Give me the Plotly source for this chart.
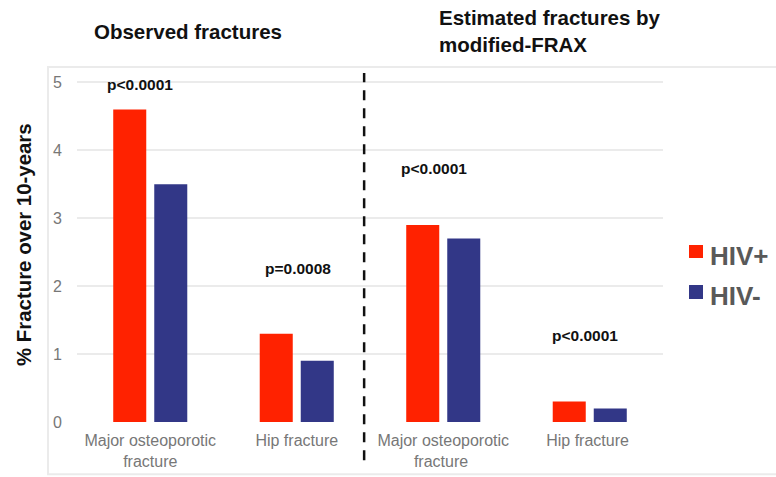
import plotly.graph_objects as go

# Fracture outcomes, observed vs. estimated by modified-FRAX
categories = ["Major osteoporotic<br>fracture", "Hip fracture",
              "Major osteoporotic<br>fracture ", "Hip fracture "]
hiv_pos = [4.6, 1.3, 2.9, 0.3]
hiv_neg = [3.5, 0.9, 2.7, 0.2]
series_names = ["HIV+", "HIV-"]
p_labels = ["p<0.0001", "p=0.0008", "p<0.0001", "p<0.0001"]
y_ticks = [0, 1, 2, 3, 4, 5]

RED = "#FF2200"
NAVY = "#323787"
FONT = "Liberation Sans, Arial, sans-serif"
colors = [RED, NAVY]

fig = go.Figure()
for name, vals, col in zip(series_names, [hiv_pos, hiv_neg], colors):
    fig.add_trace(go.Bar(x=categories, y=vals, name=name,
                         marker=dict(color=col, line=dict(width=0)),
                         showlegend=False))

# p-value labels above each group
p_pos = [(-0.07, 4.96), (1.01, 2.26), (1.94, 3.735), (2.97, 1.28)]
for txt, (px, py) in zip(p_labels, p_pos):
    fig.add_annotation(x=px, y=py, xref="x", yref="y", text=f"<b>{txt}</b>",
                       showarrow=False, font=dict(size=15.5, color="#111111", family=FONT),
                       xanchor="center", yanchor="middle")

# panel headings
fig.add_annotation(x=0.0256, y=1.117, xref="paper", yref="paper",
                   text="<b>Observed fractures</b>", showarrow=False,
                   xanchor="left", yanchor="middle", align="left",
                   font=dict(size=20.5, color="#111111", family=FONT))
fig.add_annotation(x=0.614, y=1.117, xref="paper", yref="paper",
                   text="<b>Estimated fractures by<br>modified-FRAX</b>", showarrow=False,
                   xanchor="left", yanchor="middle", align="left",
                   font=dict(size=20.5, color="#111111", family=FONT))

# y-axis title
fig.add_annotation(x=-0.0904, y=0.506, xref="paper", yref="paper",
                   text="<b>% Fracture over 10-years</b>", showarrow=False,
                   textangle=-90, xanchor="center", yanchor="middle",
                   font=dict(size=20.4, color="#111111", family=FONT))

# legend: coloured squares with bold labels
legend_rows = [(0.5057, 0.4686, 0.4757), (0.3914, 0.3514, 0.36)]
for name, col, (sy1, sy0, ty) in zip(series_names, colors, legend_rows):
    fig.add_shape(type="rect", xref="paper", yref="paper",
                  x0=1.0444, x1=1.0683, y0=sy0, y1=sy1,
                  fillcolor=col, line=dict(width=0))
    fig.add_annotation(x=1.077, y=ty, xref="paper", yref="paper",
                       text=f"<b>{name}</b>", showarrow=False,
                       xanchor="left", yanchor="middle",
                       font=dict(size=26, color="#595959", family=FONT))

# outer frame
fig.add_shape(type="rect", xref="paper", yref="paper",
              x0=-0.0495, x1=1.25, y0=-0.149, y1=1.014,
              line=dict(color="#ebebeb", width=2), layer="below")

# dashed divider between the two panels
fig.add_shape(type="line", xref="x", yref="paper", x0=1.46, x1=1.46,
              y0=-0.109, y1=0.997, line=dict(color="#111111", width=2.5, dash="10px,8px"))

fig.update_layout(
    width=776, height=477,
    margin=dict(l=77, r=113, t=72, b=55, autoexpand=False),
    paper_bgcolor="white", plot_bgcolor="white",
    barmode="group", bargap=0.44, bargroupgap=0.195,
    font=dict(family=FONT),
    showlegend=False,
    xaxis=dict(range=[-0.5, 3.5], showgrid=False, zeroline=False, showline=False,
               ticks="", tickfont=dict(size=16, color="#777777", family=FONT),
               ticklabelstandoff=7),
    yaxis=dict(range=[0, 5.15], tickvals=y_ticks, showgrid=True, gridcolor="#ebebeb",
               gridwidth=2, zeroline=False, showline=False, ticks="",
               tickfont=dict(size=16, color="#777777", family=FONT),
               ticklabelstandoff=14),
)

fig.write_html("out.html")
